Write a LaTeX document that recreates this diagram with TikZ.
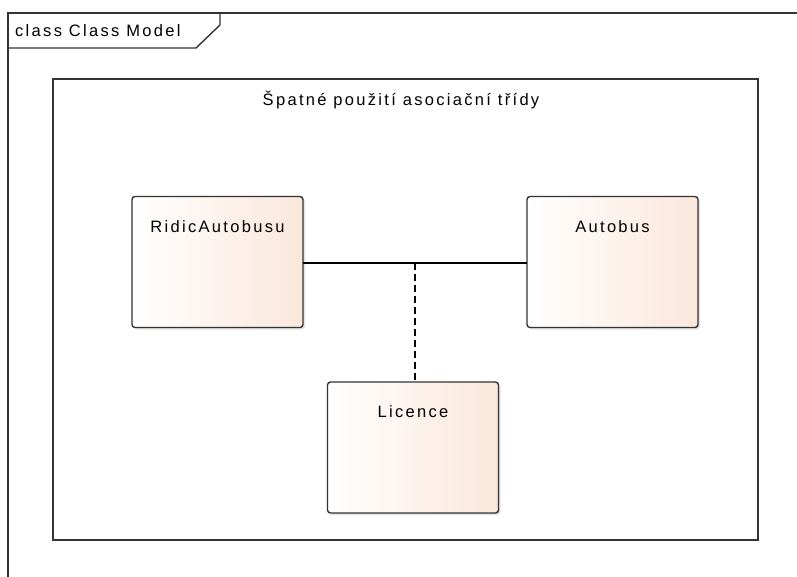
\documentclass[tikz,border=0pt]{standalone}
\usepackage{fontspec}
\newfontfamily\uifont{Liberation Sans}[LetterSpace=14]
\usetikzlibrary{shadows}
\definecolor{edge}{HTML}{333333}
\definecolor{peach}{RGB}{250,231,219}
\begin{document}
\begin{tikzpicture}[x=1pt,y=-1pt,
  lbl/.style={font=\uifont\fontsize{16.5}{19}\selectfont, text=black, inner sep=0pt},
  classbox/.style={draw=edge, line width=1.4pt, rounded corners=3pt,
    left color=white, right color=peach, shading angle=90,
    minimum width=171pt, minimum height=131pt, inner sep=0pt, outer sep=0pt,
    drop shadow={shadow xshift=2pt, shadow yshift=-2pt, opacity=0.22, fill=gray}},
  frameline/.style={draw=edge, line width=1.4pt},
  assoc/.style={draw=black, line width=1.2pt},
  assocdash/.style={draw=black, line width=1.2pt, dash pattern=on 7pt off 4pt}]
  \useasboundingbox (0,0) rectangle (797,576);
  \fill[white] (0,0) rectangle (797,576);

  % outer diagram frame with its name tab
  \draw[frameline] (8,590) -- (8,13) -- (800,13);
  \draw[frameline] (8,13) -- (220,13) -- (220,25) -- (196,48) -- (8,48);
  \node[lbl, anchor=west] (frametitle) at (15,31) {class Class Model};

  % boundary holding the example
  \draw[frameline] (53,79) rectangle (758,540);
  \node[lbl] (boundtitle) at (401,100) {Špatné použití asociační třídy};

  % classes
  \node[classbox, label={[lbl, name=ridicl, anchor=center, yshift=-30pt]north:RidicAutobusu}]
    (ridic) at (217.5,262) {};
  \node[classbox, label={[lbl, name=autobusl, anchor=center, yshift=-30pt]north:Autobus}]
    (autobus) at (612.5,262) {};
  \node[classbox, label={[lbl, name=licencel, anchor=center, yshift=-30pt]north:Licence}]
    (licence) at (413,447.5) {};

  % association and its association class link
  \draw[assoc] (ridic.east |- 0,263) -- (autobus.west |- 0,263);
  \coordinate (mid) at (415,263);
  \draw[assocdash] (mid) -- (mid |- licence.north);
\end{tikzpicture}
\end{document}
